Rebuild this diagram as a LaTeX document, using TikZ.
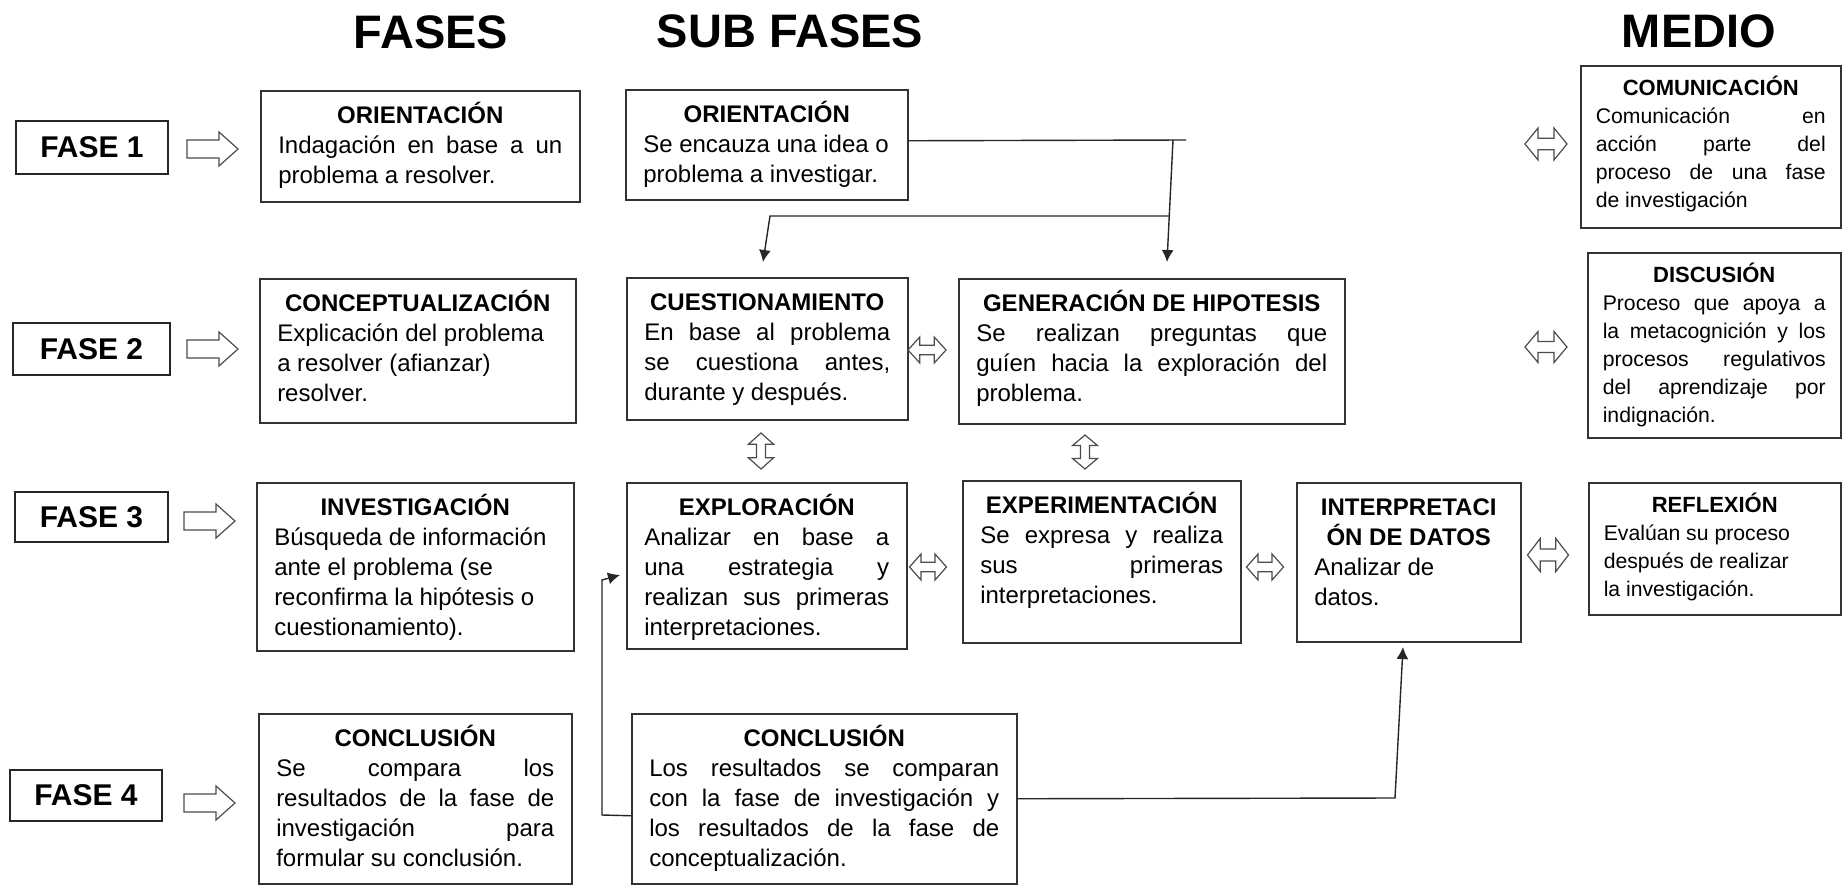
\documentclass[tikz,border=0pt]{standalone}
\usepackage{fontspec}
\setmainfont{Liberation Sans}
\usetikzlibrary{arrows.meta,calc}
\newdimen\pxu \pxu=0.5pt
\newcommand\ttlfont{\fontsize{12pt}{15pt}\selectfont\bfseries}
\newcommand\bdyfont{\fontsize{12pt}{15pt}\selectfont}
\newcommand\rttlfont{\fontsize{11pt}{14pt}\selectfont\bfseries}
\newcommand\rbdyfont{\fontsize{10.6pt}{14pt}\selectfont}
\newcommand\tbox[7]{%
 \node[box, anchor=north west, inner xsep=8.75pt] (#1) at (#2,#3)
 {\parbox[t][#5\pxu][t]{\dimexpr#4\pxu-17.5pt\relax}{{\centering\ttlfont\rule{0pt}{16.5pt}#6\par}\bdyfont #7}};}
\newcommand\rbox[7]{%
 \node[box, anchor=north west, inner xsep=7.5pt] (#1) at (#2,#3)
 {\parbox[t][#5\pxu][t]{\dimexpr#4\pxu-15pt\relax}{{\centering\rttlfont\rule{0pt}{15pt}#6\par}\rbdyfont #7}};}
\newcommand\harr[2]{\draw[hollow] (#1,#2-9) -- ++(32,0) -- ++(0,-8) -- ++(19,17) -- ++(-19,17) -- ++(0,-8) -- ++(-32,0) -- cycle;}
\newcommand\dblH[4]{\begin{scope}[shift={(#1,#2)},xscale=#3,yscale=#4]\draw[hollow] (-0.5,0) -- (-0.19,-0.5) -- (-0.19,-0.18) -- (0.19,-0.18) -- (0.19,-0.5) -- (0.5,0) -- (0.19,0.5) -- (0.19,0.18) -- (-0.19,0.18) -- (-0.19,0.5) -- cycle;\end{scope}}
\newcommand\dblV[4]{\begin{scope}[shift={(#1,#2)},xscale=#3,yscale=#4]\draw[hollow] (0,-0.5) -- (-0.5,-0.19) -- (-0.18,-0.19) -- (-0.18,0.19) -- (-0.5,0.19) -- (0,0.5) -- (0.5,0.19) -- (0.18,0.19) -- (0.18,-0.19) -- (0.5,-0.19) -- cycle;\end{scope}}
\begin{document}
\begin{tikzpicture}[x=0.5pt,y=-0.5pt,
 box/.style={draw=black!80, line width=0.75pt, inner ysep=0pt},
 fbox/.style={draw=black!85, line width=0.8pt, inner sep=0pt, font=\fontsize{15pt}{18pt}\selectfont\bfseries},
 hdr/.style={inner sep=0pt, font=\fontsize{23.5pt}{28pt}\selectfont\bfseries},
 hollow/.style={draw=black!70, line width=0.6pt, fill=white, line join=miter},
 conn/.style={draw=black!85, line width=0.7pt},
 arr/.style={-{Latex[length=6pt,width=6pt]}}]
\fill[white] (0,0) rectangle (1842,889);
\useasboundingbox (0,0) rectangle (1842,889);
% headers
\node[hdr, anchor=base] (hF) at (431,48) {FASES};
\node[hdr, anchor=base] (hS) at (790,47) {SUB FASES};
\node[hdr, anchor=base] (hM) at (1699,47) {MEDIO};
% phase labels
\node[fbox, minimum width=76pt, minimum height=26.5pt] (f1) at (92,147.5) {FASE 1};
\node[fbox, minimum width=78.5pt, minimum height=26pt] (f2) at (91.5,349) {FASE 2};
\node[fbox, minimum width=76.5pt, minimum height=25pt] (f3) at (91.5,517) {FASE 3};
\node[fbox, minimum width=76pt, minimum height=25.5pt] (f4) at (86,795.5) {FASE 4};
\harr{187}{149}
\harr{187}{349}
\harr{184}{521}
\harr{184}{803}
% fases column
\tbox{o1}{260}{90}{319}{111}{ORIENTACIÓN}{Indagación en base a un\linebreak problema a resolver.}
\tbox{c1}{259}{278}{316}{144}{CONCEPTUALIZACIÓN}{Explicación del problema\newline a resolver (afianzar)\newline resolver.}
\tbox{i1}{256}{482}{317}{168}{INVESTIGACIÓN}{Búsqueda de información\newline ante el problema (se\newline reconfirma la hipótesis o\newline cuestionamiento).}
\tbox{k1}{258}{713}{313}{170}{CONCLUSIÓN}{Se compara los\linebreak resultados de la fase de\linebreak investigación para\linebreak formular su conclusión.}
% sub fases
\tbox{o2}{625}{89}{282}{110}{ORIENTACIÓN}{Se encauza una idea o\newline problema a investigar.}
\tbox{q2}{626}{277}{281}{142}{CUESTIONAMIENTO}{En base al problema\linebreak se cuestiona antes,\linebreak durante y después.}
\tbox{g2}{958}{278}{386}{145}{GENERACIÓN DE HIPOTESIS}{Se realizan preguntas que\linebreak guíen hacia la exploración del\linebreak problema.}
\tbox{e2}{626}{482}{280}{166}{EXPLORACIÓN}{Analizar en base a\linebreak una estrategia y\linebreak realizan sus primeras\linebreak interpretaciones.}
\tbox{x2}{962}{480}{278}{162}{EXPERIMENTACIÓN}{Se expresa y realiza\linebreak sus primeras\linebreak interpretaciones.}
\tbox{n2}{1296}{482}{224}{159}{INTERPRETACI\\ÓN DE DATOS}{Analizar de\newline datos.}
\tbox{k2}{631}{713}{385}{170}{CONCLUSIÓN}{Los resultados se comparan\linebreak con la fase de investigación y\linebreak los resultados de la fase de\linebreak conceptualización.}
% medio
\rbox{m1}{1580}{65}{260}{162}{COMUNICACIÓN}{Comunicación en\linebreak acción parte del\linebreak proceso de una fase\linebreak de investigación}
\rbox{d1}{1587}{252}{253}{185}{DISCUSIÓN}{Proceso que apoya a\linebreak la metacognición y los\linebreak procesos regulativos\linebreak del aprendizaje por\linebreak indignación.}
\rbox{r1}{1588}{482}{252}{132}{REFLEXIÓN}{Evalúan su proceso\newline después de realizar\newline la investigación.}
% double arrows
\dblH{927}{350}{38}{26}
\dblH{928}{567}{37}{26}
\dblH{1265}{567}{37}{26}
\dblH{1546}{144}{42}{32}
\dblH{1546}{347}{42}{31}
\dblH{1548}{555}{41}{33}
\dblV{761}{451}{25}{36}
\dblV{1085}{452}{25}{34}
% connectors
\coordinate (jr) at (1186,140);
\coordinate (ja) at (1173,140);
\coordinate (tg) at (1167,262);
\coordinate (jb) at (1169,216);
\coordinate (jc) at (770,216);
\coordinate (tq) at (763,262);
\draw[conn] ([yshift=2pt]o2.east) -- (jr);
\draw[conn,arr] (ja) -- (tg);
\draw[conn,arr] (jb) -- (jc) -- (tq);
\coordinate (kl) at (602,815);
\coordinate (ku) at (602,580);
\coordinate (te) at (620,575);
\draw[conn,arr] ([yshift=-8.5pt]k2.west) -- (kl) -- (ku) -- (te);
\coordinate (kr) at (1395,798);
\coordinate (tn) at (1403,647);
\draw[conn,arr] (k2.east) -- (kr) -- (tn);
\end{tikzpicture}
\end{document}
